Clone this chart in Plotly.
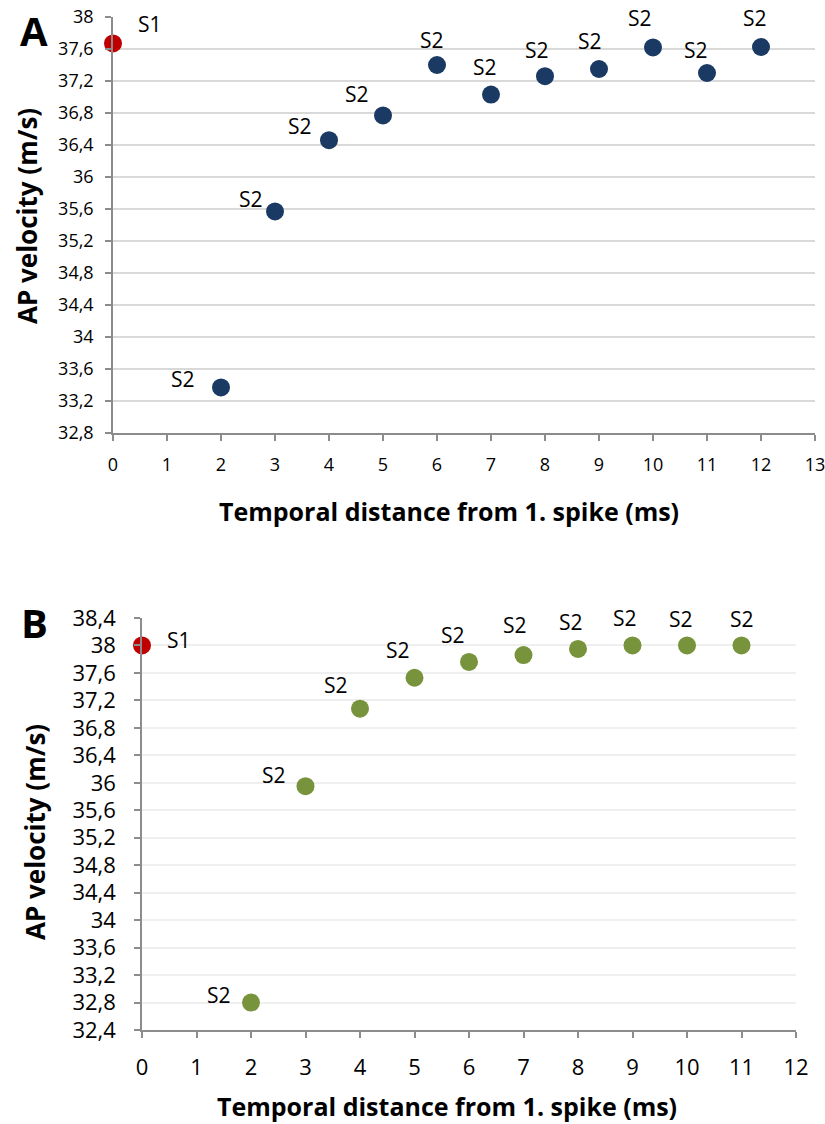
import plotly.graph_objects as go

# ---------------- data ----------------
a_s1_x = [0]
a_s1_y = [37.67]
a_s2_x = [2, 3, 4, 5, 6, 7, 8, 9, 10, 11, 12]
a_s2_y = [33.37, 35.57, 36.46, 36.77, 37.40, 37.03, 37.26, 37.35, 37.62, 37.30, 37.625]

b_s1_x = [0]
b_s1_y = [38.0]
b_s2_x = [2, 3, 4, 5, 6, 7, 8, 9, 10, 11]
b_s2_y = [32.80, 35.95, 37.08, 37.53, 37.76, 37.86, 37.95, 38.0, 38.0, 38.0]

a_yticks = [32.8, 33.2, 33.6, 34.0, 34.4, 34.8, 35.2, 35.6, 36.0, 36.4, 36.8, 37.2, 37.6, 38.0]
a_yticklabels = ["32,8", "33,2", "33,6", "34", "34,4", "34,8", "35,2", "35,6", "36", "36,4", "36,8", "37,2", "37,6", "38"]
b_yticks = [32.4, 32.8, 33.2, 33.6, 34.0, 34.4, 34.8, 35.2, 35.6, 36.0, 36.4, 36.8, 37.2, 37.6, 38.0, 38.4]
b_yticklabels = ["32,4", "32,8", "33,2", "33,6", "34", "34,4", "34,8", "35,2", "35,6", "36", "36,4", "36,8", "37,2", "37,6", "38", "38,4"]
a_xticks = list(range(0, 14))
b_xticks = list(range(0, 13))

s1_label = "S1"
s2_label = "S2"
x_title = "Temporal distance from 1. spike (ms)"
y_title = "AP velocity (m/s)"

# label pixel offsets from each marker (style, not data)
a_s1_off = [(37, -19)]
a_s2_off = [(-38, -8), (-24, -12), (-29, -14), (-26, -21), (-5, -25), (-6, -28),
            (-8, -26), (-9, -28), (-13, -29), (-11, -23), (-6, -29)]
b_s1_off = [(37, -5)]
b_s2_off = [(-32, -8), (-32, -11), (-24, -24), (-17, -28), (-16, -27), (-9, -30),
            (-7, -27), (-8, -27), (-6, -26), (0, -26)]

W, H = 825, 1124
FONT = "Open Sans"
RED = "#C00000"
BLUE = "#1B3A63"
GREEN = "#77933C"
AXIS = "#8C8C8C"
LABEL_SIZE = 21


def px_x(p):
    return p / W


def px_y(p):
    return 1 - p / H


fig = go.Figure()

fig.add_trace(go.Scatter(x=a_s2_x, y=a_s2_y, mode="markers", marker=dict(size=18, color=BLUE),
                         xaxis="x", yaxis="y", cliponaxis=False))
fig.add_trace(go.Scatter(x=a_s1_x, y=a_s1_y, mode="markers", marker=dict(size=18, color=RED),
                         xaxis="x", yaxis="y", cliponaxis=False))
fig.add_trace(go.Scatter(x=b_s2_x, y=b_s2_y, mode="markers", marker=dict(size=18, color=GREEN),
                         xaxis="x2", yaxis="y2", cliponaxis=False))
fig.add_trace(go.Scatter(x=b_s1_x, y=b_s1_y, mode="markers", marker=dict(size=18, color=RED),
                         xaxis="x2", yaxis="y2", cliponaxis=False))

common_x = dict(showline=True, linecolor=AXIS, linewidth=1.5, ticks="outside", tickcolor=AXIS,
                ticklen=6, tickwidth=1.5, showgrid=False, zeroline=False, automargin=False,
                ticklabeloverflow="allow")
common_y = dict(showline=True, linecolor=AXIS, linewidth=1.5, ticks="outside", tickcolor=AXIS,
                ticklen=6, tickwidth=1.5, showgrid=True, zeroline=False, automargin=False,
                ticklabeloverflow="allow")

fig.update_layout(
    width=W, height=H, margin=dict(l=0, r=0, t=0, b=0, autoexpand=False),
    paper_bgcolor="white", plot_bgcolor="white", showlegend=False,
    font=dict(family=FONT, color="black"),
    xaxis=dict(domain=[px_x(113), px_x(815)], anchor="y", range=[0, 13], tickvals=a_xticks,
               tickfont=dict(size=18, family=FONT), ticklabelstandoff=9, **common_x),
    yaxis=dict(domain=[px_y(433), px_y(17)], anchor="x", range=[32.8, 38.0], tickvals=a_yticks,
               ticktext=a_yticklabels, gridcolor="#D9D9D9", gridwidth=2,
               tickfont=dict(size=18, family=FONT), ticklabelstandoff=8, **common_y),
    xaxis2=dict(domain=[px_x(142), px_x(796)], anchor="y2", range=[0, 12], tickvals=b_xticks,
                tickfont=dict(size=22, family=FONT), ticklabelstandoff=11, **common_x),
    yaxis2=dict(domain=[px_y(1030), px_y(618)], anchor="x2", range=[32.4, 38.4], tickvals=b_yticks,
                ticktext=b_yticklabels, gridcolor="#EFEFEF", gridwidth=2,
                tickfont=dict(size=22, family=FONT), ticklabelstandoff=14, **common_y),
)

annotations = [
    dict(text="<b>A</b>", x=px_x(34), y=px_y(31), font=dict(size=40, family=FONT)),
    dict(text="<b>B</b>", x=px_x(34), y=px_y(622), font=dict(size=40, family=FONT)),
    dict(text="<b>" + x_title + "</b>", x=px_x(449), y=px_y(511), font=dict(size=25, family=FONT)),
    dict(text="<b>" + y_title + "</b>", x=px_x(27), y=px_y(216), textangle=-90, font=dict(size=26, family=FONT)),
    dict(text="<b>" + x_title + "</b>", x=px_x(447), y=px_y(1106), font=dict(size=25, family=FONT)),
    dict(text="<b>" + y_title + "</b>", x=px_x(35), y=px_y(832), textangle=-90, font=dict(size=26, family=FONT)),
]
for a in annotations:
    a.update(xref="paper", yref="paper", showarrow=False, xanchor="center", yanchor="middle")


def point_labels(xs, ys, text, offs, xr, yr):
    out = []
    for xv, yv, (dx, dy) in zip(xs, ys, offs):
        out.append(dict(x=xv, y=yv, xref=xr, yref=yr, text=text, showarrow=False,
                        xanchor="center", yanchor="middle", xshift=dx, yshift=-dy,
                        font=dict(size=LABEL_SIZE, family=FONT, color="black")))
    return out


annotations += point_labels(a_s1_x, a_s1_y, s1_label, a_s1_off, "x", "y")
annotations += point_labels(a_s2_x, a_s2_y, s2_label, a_s2_off, "x", "y")
annotations += point_labels(b_s1_x, b_s1_y, s1_label, b_s1_off, "x2", "y2")
annotations += point_labels(b_s2_x, b_s2_y, s2_label, b_s2_off, "x2", "y2")
fig.update_layout(annotations=annotations)

fig.write_html("out.html")
